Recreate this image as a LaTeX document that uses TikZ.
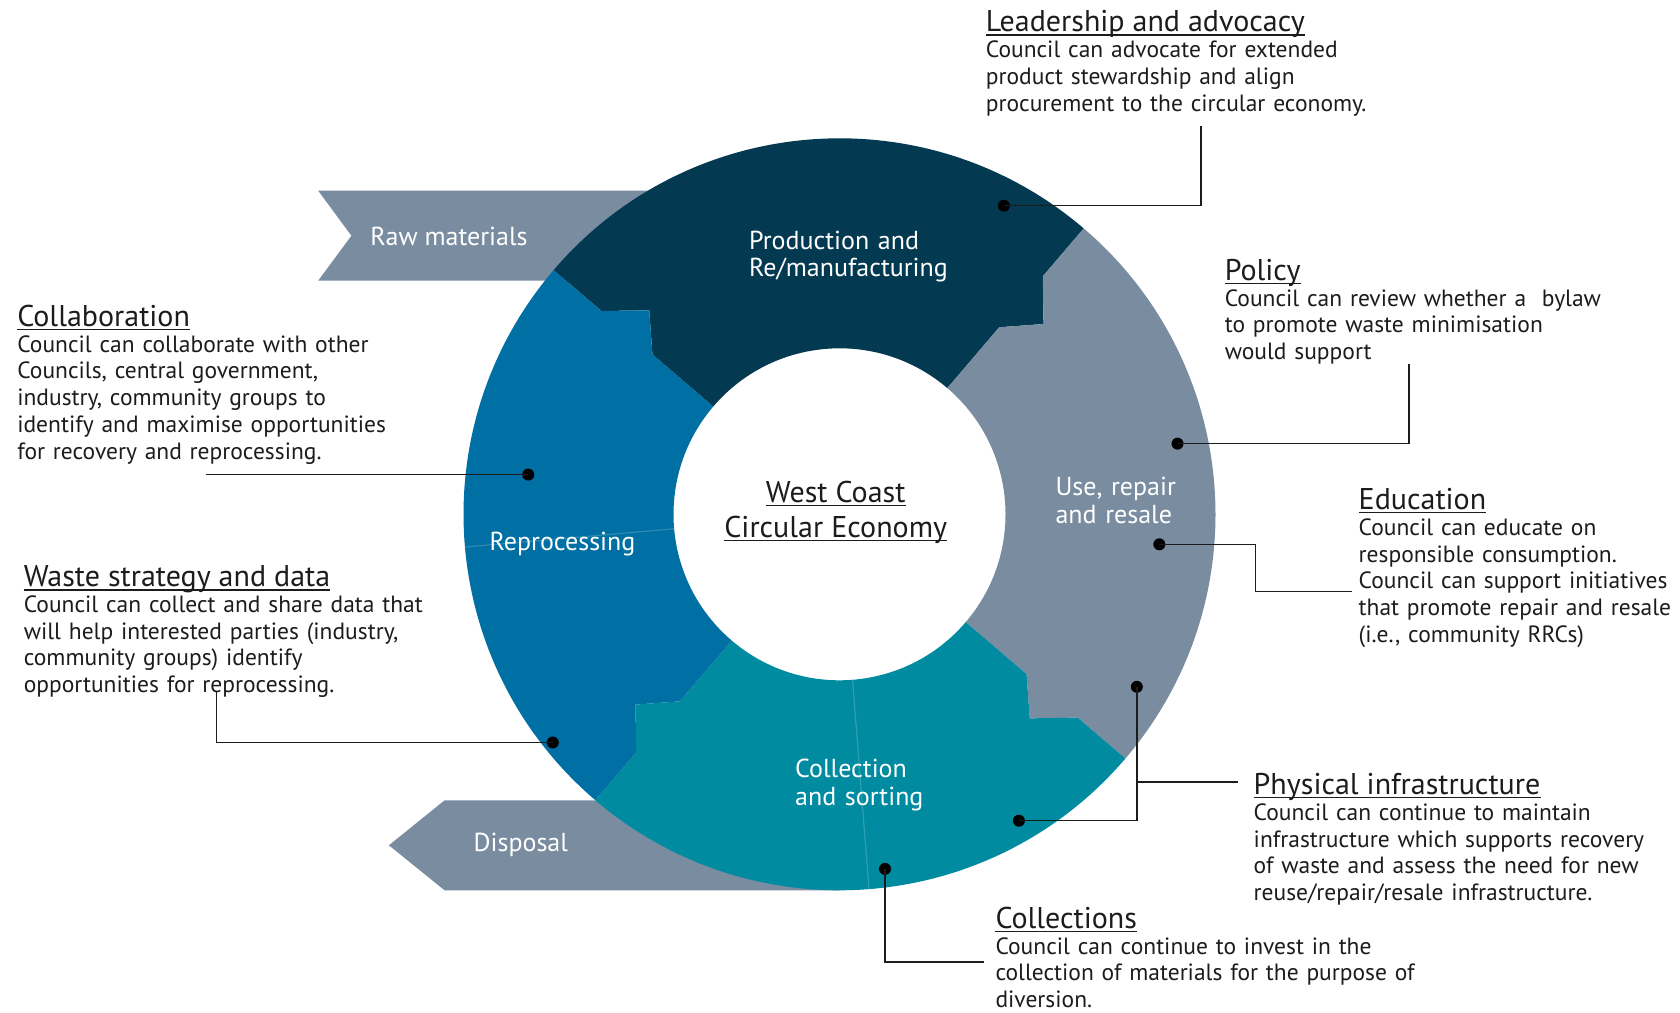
\documentclass[tikz,border=0pt]{standalone}
\usepackage{fontspec}
\setmainfont{PT Sans}
\usetikzlibrary{calc}
\definecolor{cNavy}{HTML}{033A51}
\definecolor{cSlate}{HTML}{7A8DA0}
\definecolor{cTeal}{HTML}{008BA0}
\definecolor{cBlue}{HTML}{006FA3}
\definecolor{cInk}{HTML}{1C1C1C}
\newcommand\Ro{376}
\newcommand\Ri{166}
\newcommand\Ra{246}
\newcommand\Rb{313}
\newcommand\Rt{279}
\newcommand\ringpart[3]{%
  \fill[#1] (#2:\Ro) arc[start angle=#2, end angle=#3, radius=\Ro]
    -- (#3:\Rb) -- ({#3-6.5}:\Rt) -- (#3:\Ra) -- (#3:\Ri)
    arc[start angle=#3, end angle=#2, radius=\Ri]
    -- (#2:\Ra) -- ({#2-6.5}:\Rt) -- (#2:\Rb) -- cycle;}
\newcommand\ulunder[1]{\draw[cInk, line width=1.3] ($(#1.base west)+(0,3.5)$) -- ($(#1.base east)+(0,3.5)$);}
\begin{document}
\begin{tikzpicture}[x=1pt,y=-1pt,
  headtxt/.style={anchor=base west, inner sep=0, text=cInk, font=\fontsize{30}{34}\selectfont},
  bodytxt/.style={anchor=base west, inner sep=0, text=cInk, align=left, text width=540, font=\fontsize{23.5}{26.8}\selectfont},
  seglabel/.style={inner sep=0, text=white, font=\fontsize{26}{27.9}\selectfont},
  blocklabel/.style={seglabel, anchor=base west, align=left, text width=260},
  blob/.style={circle, fill=black, inner sep=0, minimum size=12},
  leader/.style={draw=cInk, line width=1.5},
  arrowband/.style={fill=cSlate},
  seamline/.style={draw=white, opacity=0.18, line width=1.2}]
\fill[white] (0,0) rectangle (1680,1012);
\useasboundingbox (0,0) rectangle (1680,1012);

% flow bands
\fill[arrowband] (318.2,190.7) -- (760,190.7) -- (760,280.7) -- (318.2,280.7) -- (351.4,235.7) -- cycle;
\fill[arrowband] (444.6,800.3) -- (839.5,800.3) -- (839.5,890.3) -- (444.6,890.3) -- (388.9,845.3) -- cycle;

% ring
\begin{scope}[shift={(839.5,514.3)}, yscale=-1]
  \ringpart{cNavy}{139.5}{49.5}
  \ringpart{cSlate}{49.5}{-40.5}
  \ringpart{cTeal}{-40.5}{-130.5}
  \ringpart{cBlue}{229.5}{139.5}
  \draw[seamline] (185:\Ri) -- (185:\Ro);
  \draw[seamline] (-85.5:\Ri) -- (-85.5:\Ro);
\end{scope}

% segment labels
\node[blocklabel] (lProd) at (749,249) {Production and\\Re/manufacturing};
\node[blocklabel] (lUse) at (1055.3,495.6) {Use, repair\\and resale};
\node[blocklabel] (lColl) at (795,777.3) {Collection\\and sorting};
\node[seglabel, anchor=base] (lRep) at (562.5,550) {Reprocessing};
\node[seglabel, anchor=base] (lRaw) at (449,245) {Raw materials};
\node[seglabel, anchor=base] (lDisp) at (520.8,851) {Disposal};

% centre title
\node[inner sep=0, anchor=base, text=cInk, font=\fontsize{30}{34}\selectfont] (tWC) at (835.7,502) {West Coast};
\node[inner sep=0, anchor=base, text=cInk, font=\fontsize{30}{34}\selectfont] (tCE) at (835.7,537) {Circular Economy};
\ulunder{tWC}
\ulunder{tCE}

% text blocks
\node[headtxt] (hLead) at (985.7,31.4) {Leadership and advocacy};
\node[bodytxt] (bLead) at (985.7,57.4) {Council can advocate for extended\\product stewardship and align\\procurement to the circular economy.};
\ulunder{hLead}

\node[headtxt] (hPol) at (1224.6,280) {Policy};
\node[bodytxt] (bPol) at (1224.6,306) {Council can review whether a~ bylaw\\to promote waste minimisation\\would support};
\ulunder{hPol}

\node[headtxt] (hEdu) at (1358.5,509.3) {Education};
\node[bodytxt] (bEdu) at (1358.5,535.2) {Council can educate on\\responsible consumption.\\Council can support initiatives\\that promote repair and resale\\(i.e., community RRCs)};
\ulunder{hEdu}

\node[headtxt] (hPhy) at (1253.5,794.3) {Physical infrastructure};
\node[bodytxt] (bPhy) at (1253.5,820.2) {Council can continue to maintain\\infrastructure which supports recovery\\of waste and assess the need for new\\reuse/repair/resale infrastructure.};
\ulunder{hPhy}

\node[headtxt] (hCol) at (995.3,928.2) {Collections};
\node[bodytxt] (bCol) at (995.3,954.1) {Council can continue to invest in the\\collection of materials for the purpose of\\diversion.};
\ulunder{hCol}

\node[headtxt] (hCollab) at (17.1,326) {Collaboration};
\node[bodytxt] (bCollab) at (17.1,352) {Council can collaborate with other\\Councils, central government,\\industry, community groups to\\identify and maximise opportunities\\for recovery and reprocessing.};
\ulunder{hCollab}

\node[headtxt] (hWaste) at (23.6,586.4) {Waste strategy and data};
\node[bodytxt] (bWaste) at (23.6,612.3) {Council can collect and share data that\\will help interested parties (industry,\\community groups) identify\\opportunities for reprocessing.};
\ulunder{hWaste}

% connectors
\node[blob] (dLead) at (1003.9,205.7) {};
\coordinate (eLead) at (1201,126.4);
\draw[leader] (dLead.center) -| (eLead);

\node[blob] (dPol) at (1177.5,443.6) {};
\coordinate (ePol) at (1408.9,364.3);
\draw[leader] (dPol.center) -| (ePol);

\node[blob] (dEdu) at (1159.3,544.3) {};
\coordinate (kEdu) at (1255.7,591.4);
\coordinate (eEdu) at (1352.1,591.4);
\draw[leader] (dEdu.center) -| (kEdu) -- (eEdu);

\node[blob] (dPhyA) at (1136.8,686.8) {};
\node[blob] (dPhyB) at (1018.9,820.7) {};
\coordinate (jPhy) at (1136.8,782.1);
\coordinate (ePhy) at (1237.5,782.1);
\draw[leader] (dPhyA.center) |- (dPhyB.center);
\draw[leader] (jPhy) -- (ePhy);

\node[blob] (dCol) at (885,868.9) {};
\coordinate (eCol) at (983.6,962.1);
\draw[leader] (dCol.center) |- (eCol);

\node[blob] (dCollab) at (528.2,474.6) {};
\coordinate (eCollab) at (205.7,474.6);
\draw[leader] (eCollab) -- (dCollab.center);

\node[blob] (dWaste) at (552.8,742.5) {};
\coordinate (eWaste) at (216.4,691);
\draw[leader] (eWaste) |- (dWaste.center);
\end{tikzpicture}
\end{document}
